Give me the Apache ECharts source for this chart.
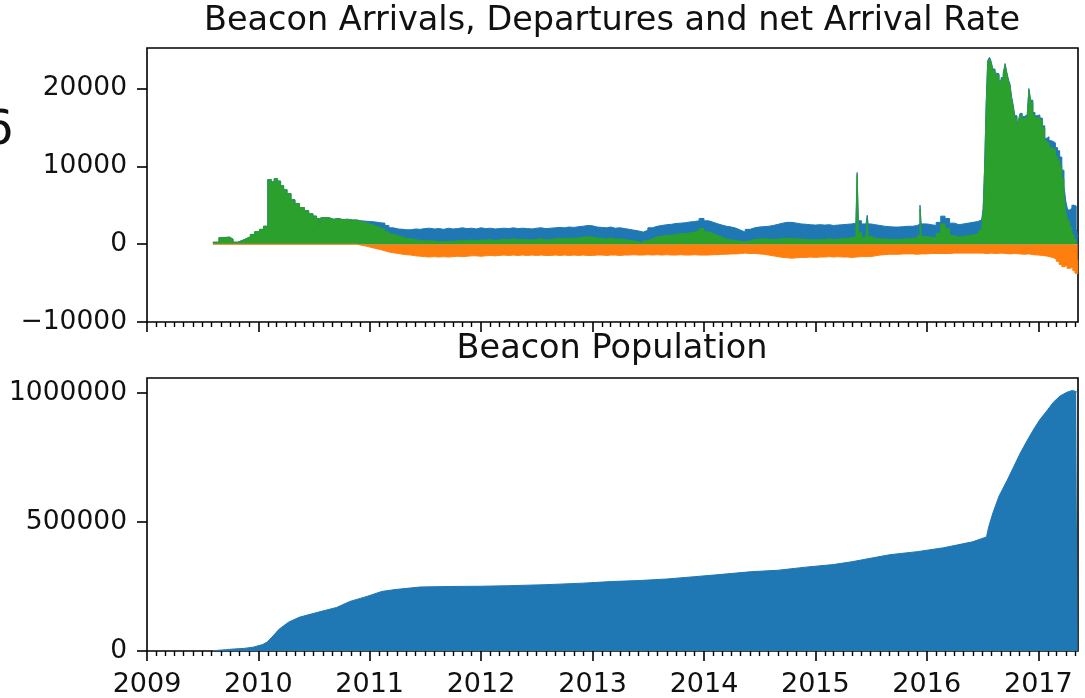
<!DOCTYPE html>
<html>
<head>
<meta charset="utf-8">
<script src="https://cdn.jsdelivr.net/npm/echarts@6/dist/echarts.min.js"></script>
<style>
  html, body { margin: 0; padding: 0; background: #fff; }
  #chart { width: 1085px; height: 698px; }
</style>
</head>
<body>
<div id="chart"></div>
<script>
// Daily beacon arrivals (positive), departures (negative) and net arrival rate
const arrivals = [
  ['2009-08-05',250],['2009-08-25',850],['2009-09-12',900],['2009-09-28',650],['2009-10-10',250],['2009-10-25',450],['2009-11-08',700],['2009-11-22',950],['2009-12-06',1250],['2009-12-20',1600],
  ['2010-01-05',1900],['2010-01-18',2300],['2010-02-01',8300],['2010-02-12',8000],['2010-02-22',8400],['2010-03-05',8100],['2010-03-15',7500],['2010-03-25',7000],['2010-04-05',6500],['2010-04-18',5700],['2010-05-01',5200],['2010-05-16',4700],['2010-06-01',4300],['2010-06-15',3900],['2010-06-29',3600],['2010-07-11',3300],['2010-07-20',2300],['2010-07-25',3400],['2010-08-20',3200],['2010-09-05',3300],['2010-09-20',3150],['2010-10-05',3200],['2010-10-20',3100],['2010-11-05',3100],['2010-11-20',3000],['2010-12-05',2950],['2010-12-20',2900],
  ['2011-01-05',2850],['2011-01-20',2750],['2011-02-05',2700],['2011-02-20',2400],['2011-03-05',2100],['2011-03-20',1950],['2011-04-05',1900],['2011-04-20',1850],
  ['2011-05-01',1850],['2011-05-16',1950],['2011-06-01',1900],['2011-06-16',2000],['2011-07-01',2050],['2011-07-16',1950],['2011-08-01',2000],['2011-08-16',1900],['2011-09-01',2050],['2011-09-16',1950],['2011-10-01',2000],['2011-10-16',2100],['2011-11-01',2000],['2011-11-16',2050],['2011-12-01',1950],['2011-12-16',2100],
  ['2012-01-01',2000],['2012-01-16',2050],['2012-02-01',1950],['2012-02-16',2000],['2012-03-01',2050],['2012-03-16',2000],['2012-04-01',2100],['2012-04-16',2000],['2012-05-01',2050],['2012-05-16',2000],['2012-06-01',1950],['2012-06-16',2050],['2012-07-01',2100],['2012-07-16',2000],['2012-08-01',2050],['2012-08-16',2100],['2012-09-01',2150],['2012-09-16',2100],['2012-10-01',2200],['2012-10-16',2150],['2012-11-01',2250],['2012-11-16',2300],['2012-12-01',2400],['2012-12-16',2350],
  ['2013-01-01',2200],['2013-01-16',2150],['2013-02-01',2100],['2013-02-16',2200],['2013-03-01',2050],['2013-03-16',2100],['2013-04-01',2000],['2013-04-16',1900],['2013-05-01',1800],['2013-05-16',1700],['2013-06-01',1550],['2013-06-16',1800],['2013-07-01',2100],['2013-07-16',2300],['2013-08-01',2400],['2013-08-16',2500],['2013-09-01',2550],['2013-09-16',2650],['2013-10-01',2700],['2013-10-16',2750],['2013-11-01',2850],['2013-11-16',2900],['2013-12-01',3000],['2013-12-16',3300],
  ['2014-01-01',3000],['2014-01-16',2800],['2014-02-01',2600],['2014-02-16',2450],['2014-03-01',2300],['2014-03-16',2200],['2014-04-01',2050],['2014-04-16',1800],['2014-05-01',1550],['2014-05-16',1900],['2014-06-01',2100],['2014-06-16',2200],['2014-07-01',2250],['2014-07-16',2300],['2014-08-01',2400],['2014-08-16',2550],['2014-09-01',2700],['2014-09-16',2800],['2014-10-01',2800],['2014-10-16',2700],['2014-11-01',2600],['2014-11-16',2550],['2014-12-01',2500],['2014-12-16',2450],
  ['2015-01-01',2500],['2015-01-16',2450],['2015-02-01',2500],['2015-02-16',2400],['2015-03-01',2450],['2015-03-16',2500],['2015-04-01',2550],['2015-04-16',2600],['2015-05-01',2700],['2015-05-14',3200],['2015-05-18',9200],['2015-05-22',3000],['2015-06-01',2600],['2015-06-16',2700],['2015-06-20',3700],['2015-06-23',2600],['2015-07-01',2500],['2015-07-16',2400],['2015-08-01',2300],['2015-08-16',2250],['2015-09-01',2200],['2015-09-16',2200],['2015-10-01',2250],['2015-10-16',2300],['2015-11-01',2300],['2015-11-16',2400],['2015-12-01',2600],['2015-12-10',5000],['2015-12-14',2600],
  ['2016-01-01',2500],['2016-01-16',2400],['2016-02-01',2800],['2016-02-16',3600],['2016-03-01',3300],['2016-03-16',2700],['2016-04-01',2500],['2016-04-16',2600],['2016-05-01',2700],['2016-05-16',2800],['2016-06-01',2900],['2016-06-16',3050],
  ['2016-06-22',3100],['2016-06-29',3300],['2016-07-04',4500],['2016-07-09',10000],['2016-07-14',18000],['2016-07-19',23600],['2016-07-25',24000],['2016-07-30',23500],['2016-08-05',22500],['2016-08-12',22000],['2016-08-18',21900],['2016-08-25',21000],['2016-09-01',21400],['2016-09-08',22000],['2016-09-14',23200],['2016-09-20',22000],['2016-09-26',21000],['2016-09-30',20600],['2016-10-05',19000],['2016-10-10',18000],['2016-10-16',16500],['2016-10-23',15300],['2016-10-28',16000],['2016-11-02',16800],['2016-11-09',16400],['2016-11-16',16600],['2016-11-25',16300],['2016-12-01',20000],['2016-12-07',18500],['2016-12-14',16900],['2016-12-21',16500],['2016-12-28',16600],
  ['2017-01-06',16200],['2017-01-14',15200],['2017-01-22',13600],['2017-01-29',13800],['2017-02-05',13300],['2017-02-12',13200],['2017-02-19',13000],['2017-02-26',12400],['2017-03-05',12000],['2017-03-12',11200],['2017-03-19',9500],['2017-03-26',7500],['2017-04-01',5500],['2017-04-07',4400],['2017-04-14',4600],['2017-04-21',5000],['2017-04-28',4900],['2017-05-05',2000],['2017-05-10',1000]
];

const departures = [
  ['2009-08-05',0],['2010-11-05',0],['2010-11-20',-150],['2010-12-05',-250],['2010-12-20',-400],
  ['2011-01-05',-550],['2011-01-20',-700],['2011-02-05',-850],['2011-02-20',-1000],['2011-03-05',-1100],['2011-03-20',-1200],['2011-04-05',-1300],['2011-04-20',-1350],
  ['2011-05-01',-1400],['2011-05-16',-1500],['2011-06-01',-1550],['2011-06-16',-1600],['2011-07-01',-1650],['2011-07-16',-1600],['2011-08-01',-1650],['2011-08-16',-1600],['2011-09-01',-1650],['2011-09-16',-1600],['2011-10-01',-1550],['2011-10-16',-1600],['2011-11-01',-1550],['2011-11-16',-1500],['2011-12-01',-1500],['2011-12-16',-1550],
  ['2012-01-01',-1500],['2012-01-16',-1450],['2012-02-01',-1500],['2012-02-16',-1450],['2012-03-01',-1400],['2012-03-16',-1450],['2012-04-01',-1400],['2012-04-16',-1450],['2012-05-01',-1400],['2012-05-16',-1450],['2012-06-01',-1400],['2012-06-16',-1450],['2012-07-01',-1400],['2012-07-16',-1450],['2012-08-01',-1450],['2012-08-16',-1400],['2012-09-01',-1450],['2012-09-16',-1400],['2012-10-01',-1450],['2012-10-16',-1400],['2012-11-01',-1450],['2012-11-16',-1400],['2012-12-01',-1450],['2012-12-16',-1450],
  ['2013-01-01',-1400],['2013-01-16',-1400],['2013-02-01',-1450],['2013-02-16',-1400],['2013-03-01',-1400],['2013-03-16',-1450],['2013-04-01',-1400],['2013-04-16',-1400],['2013-05-01',-1350],['2013-05-16',-1400],['2013-06-01',-1400],['2013-06-16',-1350],['2013-07-01',-1400],['2013-07-16',-1350],['2013-08-01',-1400],['2013-08-16',-1350],['2013-09-01',-1400],['2013-09-16',-1400],['2013-10-01',-1350],['2013-10-16',-1400],['2013-11-01',-1400],['2013-11-16',-1350],['2013-12-01',-1400],['2013-12-16',-1400],
  ['2014-01-01',-1400],['2014-01-16',-1350],['2014-02-01',-1350],['2014-02-16',-1300],['2014-03-01',-1300],['2014-03-16',-1250],['2014-04-01',-1250],['2014-04-16',-1200],['2014-05-01',-1150],['2014-05-16',-1200],['2014-06-01',-1200],['2014-06-16',-1250],['2014-07-01',-1300],['2014-07-16',-1400],['2014-08-01',-1500],['2014-08-16',-1600],['2014-09-01',-1700],['2014-09-16',-1750],['2014-10-01',-1800],['2014-10-16',-1750],['2014-11-01',-1700],['2014-11-16',-1700],['2014-12-01',-1650],['2014-12-16',-1700],
  ['2015-01-01',-1650],['2015-01-16',-1650],['2015-02-01',-1600],['2015-02-16',-1650],['2015-03-01',-1600],['2015-03-16',-1650],['2015-04-01',-1650],['2015-04-16',-1700],['2015-05-01',-1650],['2015-05-16',-1600],['2015-06-01',-1600],['2015-06-16',-1600],['2015-07-01',-1500],['2015-07-16',-1400],['2015-08-01',-1350],['2015-08-16',-1300],['2015-09-01',-1300],['2015-09-16',-1300],['2015-10-01',-1250],['2015-10-16',-1250],['2015-11-01',-1250],['2015-11-16',-1300],['2015-12-01',-1250],['2015-12-16',-1250],
  ['2016-01-01',-1200],['2016-01-16',-1200],['2016-02-01',-1200],['2016-02-16',-1200],['2016-03-01',-1200],['2016-03-16',-1150],['2016-04-01',-1150],['2016-04-16',-1150],['2016-05-01',-1150],['2016-05-16',-1150],['2016-06-01',-1150],['2016-06-16',-1150],
  ['2016-07-01',-1200],['2016-07-16',-1150],['2016-08-01',-1200],['2016-08-16',-1150],['2016-09-01',-1200],['2016-09-16',-1250],['2016-10-01',-1200],['2016-10-16',-1250],['2016-11-01',-1300],['2016-11-16',-1250],['2016-12-01',-1350],['2016-12-16',-1400],
  ['2017-01-01',-1450],['2017-01-16',-1550],['2017-02-01',-1700],['2017-02-16',-1900],['2017-03-01',-2200],['2017-03-10',-2600],['2017-03-19',-2900],['2017-03-28',-2700],['2017-04-05',-3100],['2017-04-14',-3000],['2017-04-24',-3400],['2017-05-01',-3700],['2017-05-07',-3800],['2017-05-10',-2000]
];

const netRate = [
  ['2009-08-05',250],['2009-08-25',850],['2009-09-12',900],['2009-09-28',650],['2009-10-10',250],['2009-10-25',450],['2009-11-08',700],['2009-11-22',950],['2009-12-06',1250],['2009-12-20',1600],
  ['2010-01-05',1900],['2010-01-18',2300],['2010-02-01',8300],['2010-02-12',8000],['2010-02-22',8400],['2010-03-05',8100],['2010-03-15',7500],['2010-03-25',7000],['2010-04-05',6500],['2010-04-18',5700],['2010-05-01',5200],['2010-05-16',4700],['2010-06-01',4300],['2010-06-15',3900],['2010-06-29',3600],['2010-07-11',3300],['2010-07-20',2300],['2010-07-25',3400],['2010-08-20',3200],['2010-09-05',3300],['2010-09-20',3150],['2010-10-05',3200],['2010-10-20',3100],['2010-11-05',3100],['2010-11-20',2900],['2010-12-05',2750],['2010-12-20',2550],
  ['2011-01-05',2350],['2011-01-20',2100],['2011-02-05',1900],['2011-02-20',1600],['2011-03-05',1300],['2011-03-20',1100],['2011-04-05',900],['2011-04-20',750],
  ['2011-05-01',700],['2011-05-16',600],['2011-06-01',450],['2011-06-16',500],['2011-07-01',450],['2011-07-16',400],['2011-08-01',350],['2011-08-16',300],['2011-09-01',400],['2011-09-16',350],['2011-10-01',450],['2011-10-16',500],['2011-11-01',450],['2011-11-16',550],['2011-12-01',450],['2011-12-16',550],
  ['2012-01-01',500],['2012-01-16',600],['2012-02-01',450],['2012-02-16',550],['2012-03-01',650],['2012-03-16',550],['2012-04-01',700],['2012-04-16',550],['2012-05-01',650],['2012-05-16',550],['2012-06-01',550],['2012-06-16',600],['2012-07-01',700],['2012-07-16',550],['2012-08-01',600],['2012-08-16',700],['2012-09-01',700],['2012-09-16',700],['2012-10-01',750],['2012-10-16',750],['2012-11-01',800],['2012-11-16',900],['2012-12-01',950],['2012-12-16',900],
  ['2013-01-01',800],['2013-01-16',750],['2013-02-01',650],['2013-02-16',800],['2013-03-01',650],['2013-03-16',650],['2013-04-01',600],['2013-04-16',500],['2013-05-01',450],['2013-05-16',300],['2013-06-01',150],['2013-06-16',450],['2013-07-01',700],['2013-07-16',950],['2013-08-01',1000],['2013-08-16',1150],['2013-09-01',1150],['2013-09-16',1250],['2013-10-01',1350],['2013-10-16',1350],['2013-11-01',1450],['2013-11-16',1550],['2013-12-01',1700],['2013-12-16',2000],
  ['2014-01-01',1600],['2014-01-16',1350],['2014-02-01',1100],['2014-02-16',900],['2014-03-01',650],['2014-03-16',550],['2014-04-01',450],['2014-04-16',400],['2014-05-01',300],['2014-05-16',450],['2014-06-01',600],['2014-06-16',650],['2014-07-01',700],['2014-07-16',650],['2014-08-01',600],['2014-08-16',650],['2014-09-01',700],['2014-09-16',750],['2014-10-01',700],['2014-10-16',700],['2014-11-01',650],['2014-11-16',600],['2014-12-01',600],['2014-12-16',550],
  ['2015-01-01',600],['2015-01-16',600],['2015-02-01',700],['2015-02-16',600],['2015-03-01',650],['2015-03-16',700],['2015-04-01',750],['2015-04-16',800],['2015-05-01',1000],['2015-05-14',1800],['2015-05-18',8900],['2015-05-22',1500],['2015-06-01',900],['2015-06-16',1000],['2015-06-20',3300],['2015-06-23',1000],['2015-07-01',800],['2015-07-16',700],['2015-08-01',650],['2015-08-16',650],['2015-09-01',600],['2015-09-16',600],['2015-10-01',650],['2015-10-16',700],['2015-11-01',750],['2015-11-16',800],['2015-12-01',1100],['2015-12-10',4500],['2015-12-14',1000],
  ['2016-01-01',900],['2016-01-16',800],['2016-02-01',1400],['2016-02-16',2600],['2016-03-01',2000],['2016-03-16',1100],['2016-04-01',900],['2016-04-16',1000],['2016-05-01',1100],['2016-05-16',1200],['2016-06-01',1300],['2016-06-16',1500],
  ['2016-06-22',1800],['2016-06-29',2000],['2016-07-04',4300],['2016-07-09',9900],['2016-07-14',17800],['2016-07-19',23400],['2016-07-25',23800],['2016-07-30',23300],['2016-08-05',22300],['2016-08-12',21800],['2016-08-18',21700],['2016-08-25',20800],['2016-09-01',21200],['2016-09-08',21800],['2016-09-14',23000],['2016-09-20',21800],['2016-09-26',20700],['2016-09-30',20300],['2016-10-05',18700],['2016-10-10',17700],['2016-10-16',16200],['2016-10-23',15000],['2016-10-28',15700],['2016-11-02',16500],['2016-11-09',16100],['2016-11-16',16300],['2016-11-25',16000],['2016-12-01',19800],['2016-12-07',18200],['2016-12-14',16600],['2016-12-21',16200],['2016-12-28',16300],
  ['2017-01-06',15900],['2017-01-14',14900],['2017-01-22',13300],['2017-01-29',13000],['2017-02-05',12400],['2017-02-12',12300],['2017-02-19',12200],['2017-02-26',11300],['2017-03-05',10800],['2017-03-12',10000],['2017-03-19',8400],['2017-03-26',6400],['2017-04-01',4000],['2017-04-07',3000],['2017-04-14',2200],['2017-04-21',1200],['2017-04-28',600],['2017-05-05',200],['2017-05-10',0]
];

// Total beacon population
const population = [
  ['2009-08-05',1000],['2009-09-15',5000],['2009-10-15',8000],['2009-11-15',10000],['2009-12-15',15000],
  ['2010-01-15',25000],['2010-01-30',34600],['2010-02-15',54000],['2010-03-10',84600],['2010-04-10',111500],['2010-05-15',130800],['2010-07-15',150000],['2010-09-15',169000],['2010-10-28',192000],['2010-12-23',211500],
  ['2011-02-10',231000],['2011-03-25',238000],['2011-06-15',248000],['2011-09-15',250000],
  ['2012-01-01',251000],['2012-04-01',253000],['2012-08-01',257000],['2012-12-01',263000],
  ['2013-03-01',269000],['2013-06-01',273000],['2013-09-01',279000],['2013-12-01',288000],
  ['2014-03-01',297000],['2014-06-01',307000],['2014-09-01',313000],['2014-12-01',325000],
  ['2015-03-01',335000],['2015-05-01',346000],['2015-09-01',373000],['2015-12-01',385000],
  ['2016-02-25',400000],['2016-05-30',423000],['2016-07-15',442000],['2016-07-22',480000],['2016-08-05',535000],['2016-08-25',600000],['2016-09-21',662000],['2016-10-11',711000],['2016-11-02',765000],['2016-11-25',815000],['2016-12-14',854000],
  ['2017-01-05',895000],['2017-01-29',931000],['2017-02-20',965000],['2017-03-13',988000],['2017-04-05',1003000],['2017-04-23',1010000],['2017-05-05',1005000],['2017-05-10',1000000]
];

const yearLabels = ['2009','2010','2011','2012','2013','2014','2015','2016','2017'];
const rateTicks = [-10000, 0, 10000, 20000];
const populationTicks = [0, 500000, 1000000];

const BLUE = '#1f77b4', ORANGE = '#ff7f0e', GREEN = '#2ca02c';
const FONT = 'DejaVu Sans';
const INK = '#111';

const toTime = s => Date.parse(s + 'T00:00:00Z');
const points = rows => rows.map(([d, v]) => [toTime(d), v]);

const X_MIN = Date.UTC(2009, 0, 1);
const X_MAX = Date.UTC(2017, 4, 11);
const yearTicks = yearLabels.map(y => Date.UTC(+y, 0, 1));
const monthTicks = [];
for (let y = 2009; y <= 2017; y++) {
  for (let m = 1; m < 12; m++) {
    const t = Date.UTC(y, m, 1);
    if (t < X_MAX) monthTicks.push(t);
  }
}

function xAxisPair(gridIndex, withLabels) {
  const base = {
    gridIndex, type: 'value', position: 'bottom', min: X_MIN, max: X_MAX,
    axisLine: { show: false, onZero: false }, splitLine: { show: false }
  };
  return [
    Object.assign({}, base, {
      axisTick: { show: true, customValues: yearTicks, length: 10, lineStyle: { color: '#000', width: 1.6 } },
      axisLabel: withLabels ? {
        show: true, customValues: yearTicks, margin: 20,
        formatter: v => String(new Date(v).getUTCFullYear()),
        fontFamily: FONT, fontSize: 27, color: INK
      } : { show: false }
    }),
    Object.assign({}, base, {
      axisTick: { show: true, customValues: monthTicks, length: 5, lineStyle: { color: '#000', width: 1.4 } },
      axisLabel: { show: false }
    })
  ];
}

function yAxis(gridIndex, min, max, ticks) {
  return {
    gridIndex, type: 'value', min, max,
    axisLine: { show: false, onZero: false }, splitLine: { show: false },
    axisTick: { show: true, customValues: ticks, length: 10, lineStyle: { color: '#000', width: 1.6 } },
    axisLabel: {
      show: true, customValues: ticks, margin: 20,
      formatter: v => (v < 0 ? '\u2212' + Math.abs(v) : String(v)),
      fontFamily: FONT, fontSize: 26.5, color: INK
    }
  };
}

function filled(data, color, xi, yi, step) {
  return {
    type: 'line', xAxisIndex: xi, yAxisIndex: yi, data: points(data),
    step: step, showSymbol: false, silent: true,
    lineStyle: { color, width: 1 }, itemStyle: { color },
    areaStyle: { color, opacity: 1 }
  };
}

const chart = echarts.init(document.getElementById('chart'), null, { renderer: 'canvas' });
chart.setOption({
  animation: false,
  backgroundColor: '#fff',
  grid: [
    { left: 147, top: 48, width: 931, height: 274, show: true, borderColor: '#000', borderWidth: 1.6, backgroundColor: 'transparent' },
    { left: 147, top: 378, width: 931, height: 274, show: true, borderColor: '#000', borderWidth: 1.6, backgroundColor: 'transparent' }
  ],
  xAxis: [...xAxisPair(0, false), ...xAxisPair(1, true)],
  yAxis: [yAxis(0, -10000, 25200, rateTicks), yAxis(1, 0, 1058000, populationTicks)],
  series: [
    filled(arrivals, BLUE, 0, 0, 'end'),
    filled(departures, ORANGE, 0, 0, 'end'),
    filled(netRate, GREEN, 0, 0, 'end'),
    filled(population, BLUE, 2, 1, false)
  ],
  graphic: [
    { type: 'text', x: 612, y: 4, style: { text: 'Beacon Arrivals, Departures and net Arrival Rate', font: '33.5px "DejaVu Sans"', fill: INK, align: 'center', verticalAlign: 'top' } },
    { type: 'text', x: 612, y: 332, style: { text: 'Beacon Population', font: '33.5px "DejaVu Sans"', fill: INK, align: 'center', verticalAlign: 'top' } },
    { type: 'text', x: -17, y: 108, style: { text: '6', font: '48px "DejaVu Sans"', fill: INK, align: 'left', verticalAlign: 'top' } }
  ]
});
</script>
</body>
</html>
